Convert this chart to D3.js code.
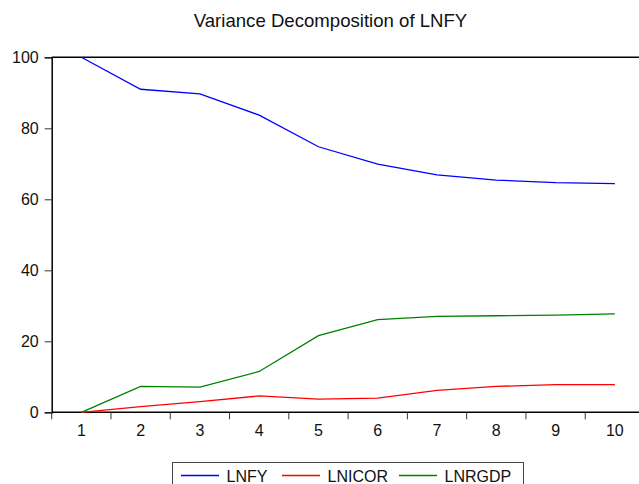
<!DOCTYPE html>
<html>
<head>
<meta charset="utf-8">
<script src="https://cdn.jsdelivr.net/npm/d3@7"></script>
<style>
  body { margin: 0; background: #fff; }
  svg { display: block; font-family: "Liberation Sans", Arial, sans-serif; }
</style>
</head>
<body>
<svg id="chart" width="639" height="484"></svg>
<script>
const periods = [1, 2, 3, 4, 5, 6, 7, 8, 9, 10];
const lnfy   = [100, 91.0, 89.7, 83.7, 74.8, 69.9, 66.9, 65.4, 64.7, 64.4];
const lnicor = [0, 1.6, 3.0, 4.6, 3.7, 4.0, 6.2, 7.3, 7.8, 7.8];
const lnrgdp = [0, 7.3, 7.1, 11.5, 21.6, 26.1, 27.0, 27.2, 27.4, 27.7];
const yTicks = [0, 20, 40, 60, 80, 100];
const seriesNames = ["LNFY", "LNICOR", "LNRGDP"];
const seriesColors = ["#0000FF", "#FF0000", "#008000"];
const chartTitle = "Variance Decomposition of LNFY";

(function () {
const svg = d3.select("#chart");
const pL = 51.7, pR = 644.5, pT = 57.3, pB = 412.3;

const x = d3.scaleBand().domain(periods).range([pL, pR]);
const y = d3.scaleLinear().domain([0, 100]).range([pB, pT]);

// title
svg.append("text")
  .attr("x", 330.5).attr("y", 26.5)
  .attr("text-anchor", "middle")
  .attr("font-size", 18.6)
  .attr("fill", "#111")
  .text(chartTitle);

// frame (top + right)
svg.append("line")
  .attr("x1", pL).attr("x2", pR)
  .attr("y1", pT).attr("y2", pT)
  .attr("stroke", "#000").attr("stroke-width", 1.5);
svg.append("line")
  .attr("x1", pR).attr("x2", pR)
  .attr("y1", pT).attr("y2", pB)
  .attr("stroke", "#000").attr("stroke-width", 1.5);

// y axis
const yAxis = d3.axisLeft(y).tickValues(yTicks).tickSize(7).tickPadding(6).tickFormat(d3.format("d"));
const gy = svg.append("g").attr("transform", `translate(${pL},0)`).call(yAxis);
gy.select(".domain").attr("stroke", "#000").attr("stroke-width", 1.5);
gy.selectAll(".tick line").attr("stroke", "#333");
gy.selectAll(".tick text").attr("font-size", 16).attr("fill", "#111").attr("font-family", "Liberation Sans, Arial, sans-serif");

// x axis (labels at centers, ticks at boundaries)
const xAxis = d3.axisBottom(x).tickSize(0).tickPadding(12);
const gx = svg.append("g").attr("transform", `translate(0,${pB})`).call(xAxis);
gx.select(".domain").remove();
gx.selectAll(".tick text").attr("font-size", 16).attr("fill", "#111").attr("font-family", "Liberation Sans, Arial, sans-serif");
svg.append("line")
  .attr("x1", pL).attr("x2", pR)
  .attr("y1", pB).attr("y2", pB)
  .attr("stroke", "#000").attr("stroke-width", 1.5);
const bounds = periods.map(p => x(p)).concat([x(periods[periods.length - 1]) + x.bandwidth()]);
svg.append("g").selectAll("line").data(bounds).join("line")
  .attr("x1", d => d).attr("x2", d => d)
  .attr("y1", pB).attr("y2", pB + 7)
  .attr("stroke", "#333").attr("stroke-width", 1);

// lines
const allSeries = [lnfy, lnicor, lnrgdp];
const line = d3.line()
  .x((d, i) => x(periods[i]) + x.bandwidth() / 2)
  .y(d => y(d));
allSeries.forEach((s, k) => {
  svg.append("path")
    .datum(s)
    .attr("d", line)
    .attr("fill", "none")
    .attr("stroke", seriesColors[k])
    .attr("stroke-width", 1.3);
});

// legend
const lg = svg.append("g");
lg.append("rect")
  .attr("x", 172.5).attr("y", 462.5)
  .attr("width", 351).attr("height", 40)
  .attr("fill", "#fff").attr("stroke", "#444").attr("stroke-width", 1);
const legendX = [181, 282, 399];
seriesNames.forEach((name, k) => {
  lg.append("line")
    .attr("x1", legendX[k]).attr("x2", legendX[k] + 38)
    .attr("y1", 475.5).attr("y2", 475.5)
    .attr("stroke", seriesColors[k]).attr("stroke-width", 1.3);
  lg.append("text")
    .attr("x", legendX[k] + 45.5).attr("y", 481.5)
    .attr("font-size", 16)
    .attr("fill", "#111")
    .text(name);
});
})();
</script>
</body>
</html>
